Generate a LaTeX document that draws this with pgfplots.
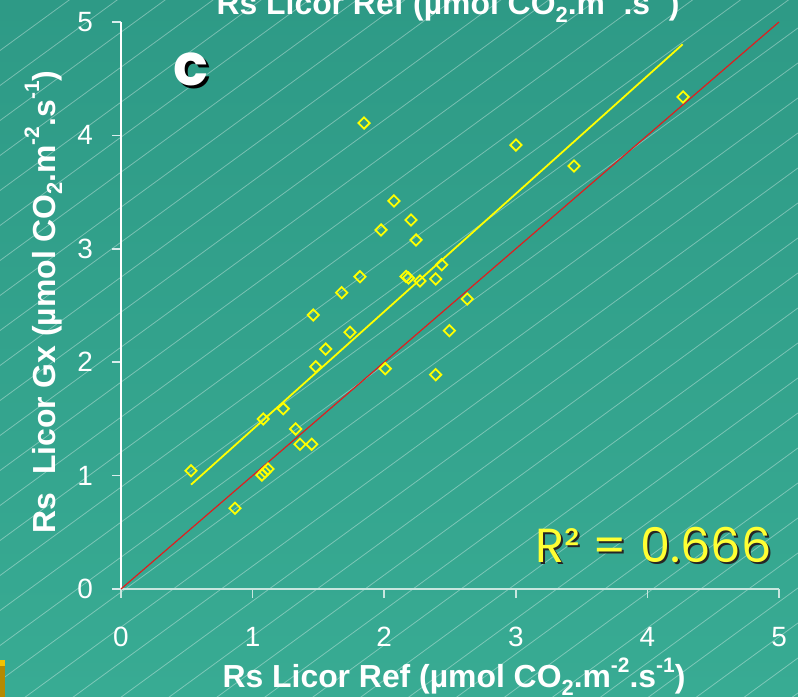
\documentclass[border=0pt]{standalone}
\usepackage{pgfplots}
\pgfplotsset{compat=1.18}
\usepackage{fontspec}
\setmainfont{Liberation Sans}
\newfontfamily\comic{Poppins}

\definecolor{tealtop}{HTML}{2E9A86}
\definecolor{tealbot}{HTML}{38AB93}
\definecolor{xaxcol}{HTML}{C8E6DF}
\definecolor{fitcol}{HTML}{FFFF00}
\definecolor{onecol}{HTML}{E01E1E}
\definecolor{rcol}{HTML}{FFFF33}
\definecolor{goldA}{HTML}{F2C200}
\definecolor{goldB}{HTML}{B58A00}

\newcommand\up[1]{\raisebox{0.5em}{\fontsize{21}{21}\selectfont #1}}
\newcommand\dn[1]{\raisebox{-0.22em}{\fontsize{22}{22}\selectfont #1}}
\newcommand\unit{(µmol CO\dn{2}.m\up{-2}.s\up{-1})}

\begin{document}
\begin{tikzpicture}[x=1bp,y=1bp]
% background
\shade[top color=tealtop, bottom color=tealbot] (0,0) rectangle (798,697);
\begin{scope}
  \clip (0,0) rectangle (798,697);
  \foreach \k in {-20,...,22}
    \draw[white, opacity=0.35, line width=0.8bp]
      (0,{-123.5+35*\k}) -- (798,{-123.5+35*\k+0.73*798});
\end{scope}
\fill[goldB] (0,0) rectangle (5,37);
\fill[goldA] (0,31) rectangle (5,37);

\begin{axis}[
    at={(121bp,108bp)}, anchor=origin,
    width=658bp, height=567bp, scale only axis,
    xmin=0, xmax=5, ymin=0, ymax=5,
    xtick={0,1,2,3,4,5}, ytick={0,1,2,3,4,5},
    axis lines=left, axis line style={-},
    x axis line style={color=xaxcol, line width=2bp},
    y axis line style={color=white, line width=1.6bp},
    tick align=outside, major tick length=9bp,
    xtick style={color=xaxcol, line width=1.5bp},
    ytick style={color=white!85!teal, line width=1.5bp},
    /pgf/number format/assume math mode=true,
    xticklabel style={font=\fontsize{28}{28}\selectfont, text=white,
      anchor=north, inner sep=0pt, yshift=-29bp},
    yticklabel style={font=\fontsize{28}{28}\selectfont, text=white,
      anchor=east, inner sep=0pt, xshift=-19bp},
    clip=false,
]
% 1:1 line
\addplot[color=onecol, line width=1.2bp] coordinates {(0,0) (5,5)};
% regression line
\addplot[color=fitcol, line width=1.8bp] coordinates {(0.532,0.920) (4.268,4.803)};
% observations
\addplot[only marks, mark=square, mark size=4bp,
    mark options={color=fitcol, line width=1.8bp, rotate=45}]
  coordinates {
  (0.532,1.043) (0.866,0.712) (1.081,1.499) (1.071,1.005) (1.094,1.032)
  (1.117,1.058) (1.233,1.590) (1.327,1.411) (1.360,1.276) (1.449,1.276)
  (1.461,2.416) (1.480,1.960) (1.555,2.116) (1.677,2.613) (1.740,2.264)
  (1.816,2.754) (1.847,4.109) (1.976,3.166) (2.008,1.943) (2.074,3.422)
  (2.204,3.254) (2.242,3.078) (2.166,2.756) (2.184,2.743) (2.272,2.716)
  (2.391,2.734) (2.437,2.860) (2.391,1.890) (2.495,2.278) (2.631,2.557)
  (3.001,3.915) (3.442,3.730) (4.271,4.339)
  };
\end{axis}

% labels
\node[anchor=base, text=white, font=\fontsize{32}{32}\selectfont\bfseries]
  at (454,9) {Rs Licor Ref \unit};
\node[anchor=base, text=white, font=\fontsize{32}{32}\selectfont\bfseries]
  at (448,682) {Rs Licor Ref \unit};
\node[anchor=base, rotate=90, text=white, font=\fontsize{32}{32}\selectfont\bfseries]
  at (55,395) {Rs \ Licor Gx \unit};

% panel letter
\node[text=black, font=\fontsize{58}{58}\selectfont\comic\bfseries] at (194,625) {c};
\node[text=white, font=\fontsize{58}{58}\selectfont\comic\bfseries] at (191,628) {c};

% R^2
\node[anchor=base east, text=black!85, font=\fontsize{48}{48}\selectfont\comic] at (777,132) {R² = 0.666};
\node[anchor=base east, text=rcol, font=\fontsize{48}{48}\selectfont\comic] at (775,134) {R² = 0.666};

\pgfresetboundingbox
\path[use as bounding box] (0,0) rectangle (798,697);
\end{tikzpicture}
\end{document}
